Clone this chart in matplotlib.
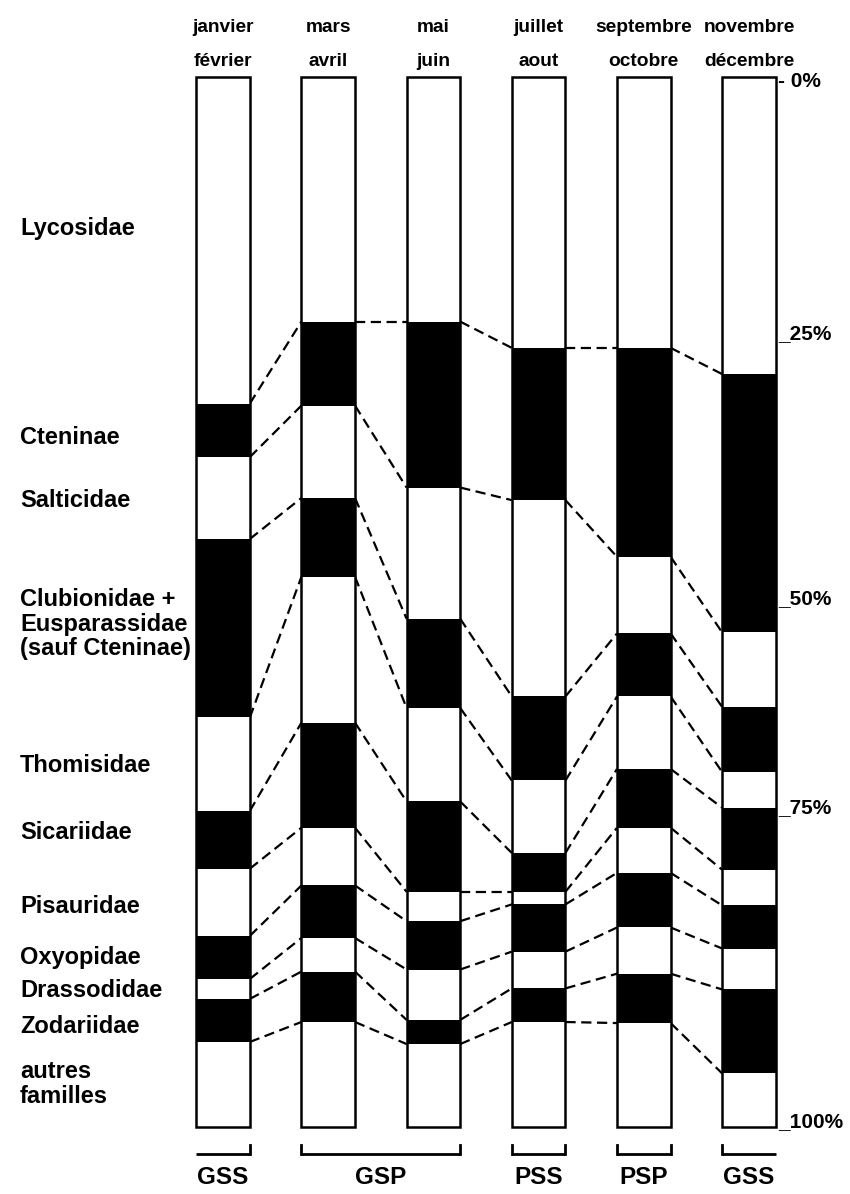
import matplotlib
matplotlib.use("Agg")
import matplotlib.pyplot as plt
import numpy as np

# bimonthly periods (two label rows above the columns)
months_top = ["janvier", "mars", "mai", "juillet", "septembre", "novembre"]
months_bottom = ["février", "avril", "juin", "aout", "octobre", "décembre"]

families = [
    "Lycosidae",
    "Cteninae",
    "Salticidae",
    "Clubionidae +\nEusparassidae\n(sauf Cteninae)",
    "Thomisidae",
    "Sicariidae",
    "Pisauridae",
    "Oxyopidae",
    "Drassodidae",
    "Zodariidae",
    "autres\nfamilles",
]
# where each family name sits on the left, in % of the column scale
family_label_pos = [14.4, 34.3, 40.3, 52.1, 65.6, 72.0, 79.0, 83.9, 87.0, 90.4, 95.9]

# share (%) of each family per period
jan_feb = [31.1, 5.1, 7.8, 17.0, 8.9, 5.5, 6.4, 4.1, 1.9, 4.1, 8.1]
mar_apr = [23.3, 8.0, 8.8, 7.5, 13.9, 10.0, 5.5, 5.0, 3.2, 4.8, 10.0]
mai_jun = [23.3, 15.8, 12.5, 8.5, 8.9, 8.6, 2.8, 4.6, 4.8, 2.3, 7.9]
jul_aou = [25.8, 14.5, 18.7, 8.0, 6.9, 3.7, 1.2, 4.5, 3.5, 3.2, 10.0]
sep_oct = [25.8, 19.9, 7.3, 6.0, 6.9, 5.6, 4.3, 5.2, 4.4, 4.7, 9.9]
nov_dec = [28.3, 24.6, 7.1, 6.2, 3.4, 5.9, 3.4, 4.1, 3.9, 8.0, 5.1]
periods = [jan_feb, mar_apr, mai_jun, jul_aou, sep_oct, nov_dec]

# right-hand scale as drawn in the original (75% mark is hand-placed high)
scale_labels = ["0%", "25%", "50%", "75%", "100%"]
scale_pos = [0.4, 25.0, 50.2, 70.1, 100.0]

# season groups under the columns
seasons = ["GSS", "GSP", "PSS", "PSP", "GSS"]
season_first = [0, 1, 3, 4, 5]
season_last = [0, 2, 3, 4, 5]

plt.rcParams.update({
    "font.family": ["Liberation Sans", "DejaVu Sans"],
    "font.weight": "bold",
})

fig = plt.figure(figsize=(8.5, 11.94), dpi=100)
ax = fig.add_axes([0, 0, 1, 1])
ax.set_xlim(-2.12, 5.96)
ax.set_ylim(106.38, -7.33)
ax.axis("off")

W = 0.51
half = W / 2
x = np.arange(len(periods))

for i, shares in enumerate(periods):
    shares = np.asarray(shares)
    bottoms = np.concatenate([[0], np.cumsum(shares)[:-1]])
    colors = ["white" if k % 2 == 0 else "black" for k in range(len(shares))]
    ax.bar(np.full(len(shares), x[i]), shares, bottom=bottoms, width=W,
           color=colors, edgecolor="none", zorder=2)
    ax.bar(x[i], shares.sum(), bottom=0, width=W, fill=False,
           edgecolor="black", linewidth=1.8, zorder=3)

# dashed connectors between matching boundaries of neighbouring columns
for i in range(len(periods) - 1):
    left = np.cumsum(periods[i])[:-1]
    right = np.cumsum(periods[i + 1])[:-1]
    for a, b in zip(left, right):
        ax.plot([x[i] + half, x[i + 1] - half], [a, b], color="black",
                linewidth=1.6, linestyle=(0, (4.6, 2.5)), zorder=1)

# month headings
for i in range(len(periods)):
    ax.text(x[i], -4.75, months_top[i], ha="center", va="center", fontsize=13.8)
    ax.text(x[i], -1.5, months_bottom[i], ha="center", va="center", fontsize=13.8)

# family names
for name, pos in zip(families, family_label_pos):
    ax.text(-1.93, pos, name, ha="left", va="center", fontsize=17,
            linespacing=1.1)

# percentage scale
for lab, pos in zip(scale_labels, scale_pos):
    if lab == "0%":
        ax.text(x[-1] + half + 0.02, pos, "- " + lab, ha="left", va="center",
                fontsize=15)
    else:
        ax.text(x[-1] + half + 0.02, pos, "_" + lab, ha="left", va="baseline",
                fontsize=15)

# season brackets
for name, a, b in zip(seasons, season_first, season_last):
    x0 = x[a] - half
    x1 = x[b] + half
    ax.plot([x0, x1], [102.6, 102.6], color="black", linewidth=2.0,
            solid_capstyle="butt")
    if a != 0:
        ax.plot([x0, x0], [101.7, 102.6], color="black", linewidth=2.0)
    if b != len(periods) - 1:
        ax.plot([x1, x1], [101.7, 102.6], color="black", linewidth=2.0)
    ax.text((x0 + x1) / 2, 104.8, name, ha="center", va="center", fontsize=17.5)

fig.savefig("out.png", dpi=100)
